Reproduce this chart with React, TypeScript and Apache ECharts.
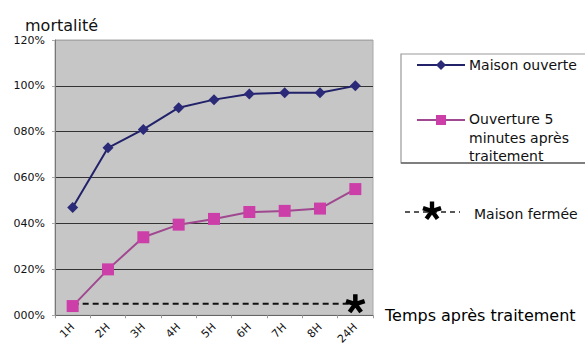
import React, { useEffect, useRef } from "react";
import * as echarts from "echarts";

const categories = ["1H", "2H", "3H", "4H", "5H", "6H", "7H", "8H", "24H"];
const maisonOuverte = [47, 73, 81, 90.5, 94, 96.5, 97, 97, 100];
const ouverture5 = [4, 20, 34, 39.5, 42, 45, 45.5, 46.5, 55];
const maisonFermee = [5, 5, 5, 5, 5, 5, 5, 5, 5];
const yTickLabels = ["000%", "020%", "040%", "060%", "080%", "100%", "120%"];

const FONT = "DejaVu Sans";

// five-armed asterisk geometry (arm rectangles, same orientation)
const ARM_ANGLES = [-90, -18, 54, 126, 198];
const ARM_LEN = 5;
const ARM_HALF = 1.15;
const starPolys: number[][][] = ARM_ANGLES.map((deg) => {
  const a = (deg * Math.PI) / 180;
  const dx = Math.cos(a);
  const dy = Math.sin(a);
  const px = -dy;
  const py = dx;
  const b = -0.8;
  const corners = [
    [b, ARM_HALF],
    [ARM_LEN, ARM_HALF],
    [ARM_LEN, -ARM_HALF],
    [b, -ARM_HALF],
  ];
  return corners.map(([u, v]) => [
    +(u * dx + v * px).toFixed(3),
    +(u * dy + v * py).toFixed(3),
  ]);
});
const STAR =
  "path://" +
  starPolys
    .map((pts) => "M" + pts.map((p) => p[0] + "," + p[1]).join("L") + "Z")
    .join(" ");

export default function App() {
  const ref = useRef<HTMLDivElement>(null);
  useEffect(() => {
    if (!ref.current) return;
    const chart = echarts.init(ref.current, null, { renderer: "svg" });
    const last = maisonFermee.length - 1;
    chart.setOption({
      animation: false,
      backgroundColor: "#ffffff",
      title: {
        text: "mortalité",
        left: 20,
        top: 12,
        textStyle: { fontFamily: FONT, fontSize: 16, fontWeight: "normal", color: "#111" },
      },
      grid: {
        left: 55,
        right: 212,
        top: 40,
        bottom: 31,
        show: true,
        backgroundColor: "#c6c6c6",
        borderColor: "#a8a8a8",
        borderWidth: 1,
      },
      xAxis: {
        type: "category",
        data: categories,
        boundaryGap: true,
        name: "Temps après traitement",
        nameLocation: "end",
        nameGap: 12,
        nameTextStyle: { fontFamily: FONT, fontSize: 16, color: "#000", padding: [6, 0, 0, 0] },
        axisLine: { show: true, lineStyle: { color: "#666", width: 1 } },
        axisTick: { show: true, length: 3, lineStyle: { color: "#999" } },
        axisLabel: { rotate: 45, margin: 10, fontFamily: FONT, fontSize: 11, color: "#111" },
      },
      yAxis: {
        type: "value",
        min: 0,
        max: 120,
        interval: 20,
        axisLine: { show: true, lineStyle: { color: "#777" } },
        axisTick: { show: true, length: 3, lineStyle: { color: "#aaa" } },
        axisLabel: {
          margin: 10,
          fontFamily: FONT,
          fontSize: 11,
          color: "#111",
          formatter: (v: number) => yTickLabels[Math.round(v / 20)],
        },
        splitLine: {
          show: true,
          lineStyle: { color: ["#666", "#333", "#333", "#333", "#333", "#333", "#a8a8a8"], width: 1 },
        },
      },
      series: [
        {
          name: "Maison fermée",
          type: "line",
          data: maisonFermee.map((v, i) =>
            i === last
              ? { value: v, symbol: STAR, symbolSize: 20, symbolKeepAspect: true }
              : { value: v, symbol: "none" }
          ),
          lineStyle: { color: "#111", width: 2, type: [6, 4] },
          itemStyle: { color: "#000" },
          z: 3,
        },
        {
          name: "Ouverture 5 minutes après traitement",
          type: "line",
          data: ouverture5,
          symbol: "rect",
          symbolSize: 12,
          lineStyle: { color: "#a04890", width: 2 },
          itemStyle: { color: "#cc3fa8" },
          z: 4,
        },
        {
          name: "Maison ouverte",
          type: "line",
          data: maisonOuverte,
          symbol: "diamond",
          symbolSize: 11,
          lineStyle: { color: "#22226a", width: 2 },
          itemStyle: { color: "#2a2a78" },
          z: 5,
        },
      ],
      graphic: [
        {
          type: "rect",
          shape: { x: 401, y: 54, width: 200, height: 109 },
          style: { fill: "#ffffff", stroke: "#999", lineWidth: 1.2 },
        },
        {
          type: "line",
          shape: { x1: 401, y1: 163, x2: 590, y2: 163 },
          style: { stroke: "#666", lineWidth: 1.5 },
        },
        {
          type: "line",
          shape: { x1: 417, y1: 65, x2: 465, y2: 65 },
          style: { stroke: "#22226a", lineWidth: 2 },
        },
        {
          type: "polygon",
          shape: { points: [[441, 60], [446, 65], [441, 70], [436, 65]] },
          style: { fill: "#2a2a78" },
        },
        {
          type: "text",
          x: 469,
          y: 65,
          style: { text: "Maison ouverte", fontFamily: FONT, fontSize: 14, fill: "#111", verticalAlign: "middle" },
        },
        {
          type: "line",
          shape: { x1: 417, y1: 120, x2: 465, y2: 120 },
          style: { stroke: "#a04890", lineWidth: 2 },
        },
        {
          type: "rect",
          shape: { x: 436, y: 115, width: 10, height: 10 },
          style: { fill: "#cc3fa8" },
        },
        {
          type: "text",
          x: 469,
          y: 110,
          style: {
            text: "Ouverture 5\nminutes après\ntraitement",
            fontFamily: FONT,
            fontSize: 14,
            lineHeight: 18.5,
            fill: "#111",
            verticalAlign: "top",
          },
        },
        {
          type: "line",
          shape: { x1: 405, y1: 212, x2: 460, y2: 212 },
          style: { stroke: "#222", lineWidth: 1.5, lineDash: [5, 4] },
        },
        {
          type: "group",
          x: 432,
          y: 211,
          scaleX: 1.9,
          scaleY: 1.9,
          children: starPolys.map((pts) => ({
            type: "polygon",
            shape: { points: pts },
            style: { fill: "#000" },
          })),
        },
        {
          type: "text",
          x: 474,
          y: 214,
          style: { text: "Maison fermée", fontFamily: FONT, fontSize: 14, fill: "#111", verticalAlign: "middle" },
        },
      ],
    });
    return () => chart.dispose();
  }, []);
  return (
    <div
      ref={ref}
      style={{ position: "fixed", left: 0, top: 0, width: 585, height: 347, background: "#fff" }}
    />
  );
}
